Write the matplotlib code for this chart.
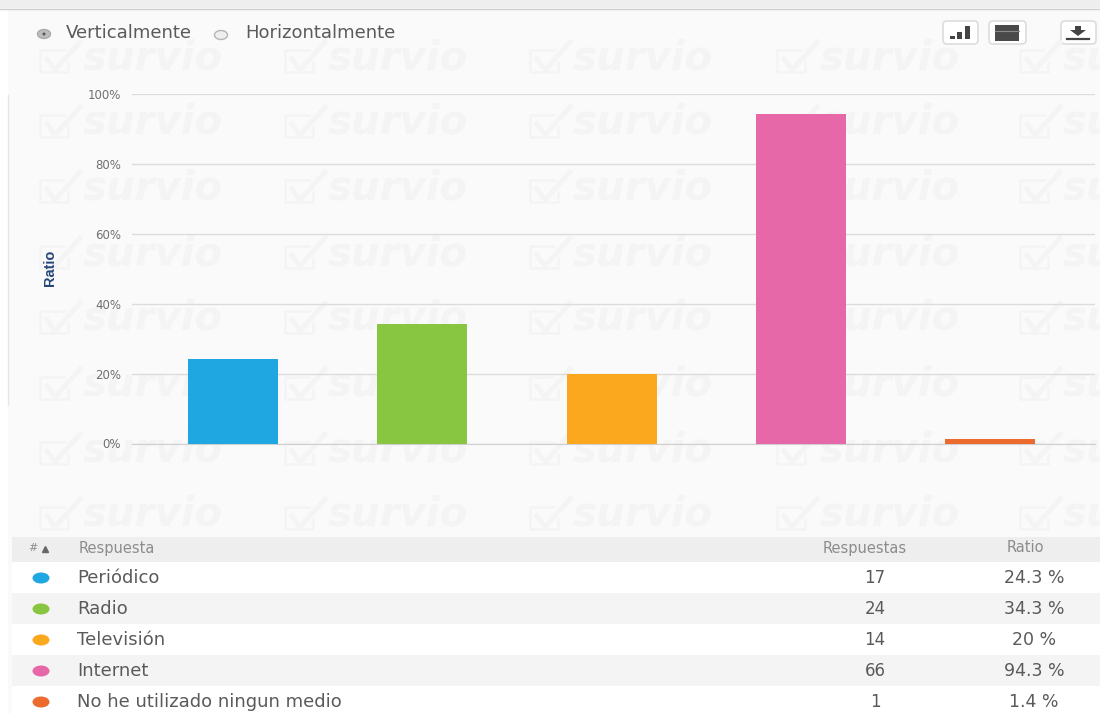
import matplotlib
matplotlib.use('Agg')
import matplotlib.pyplot as plt
from matplotlib.patches import Rectangle, Circle, Ellipse, FancyBboxPatch

# values
answers = ['Periódico', 'Radio', 'Televisión', 'Internet', 'No he utilizado ningun medio']
counts = [17, 24, 14, 66, 1]
ratios = [24.3, 34.3, 20, 94.3, 1.4]
ratio_labels = ['24.3 %', '34.3 %', '20 %', '94.3 %', '1.4 %']
colors = ['#1ea7e1', '#88c540', '#fba81f', '#e668a8', '#ec6a2e']
y_ticks = [0, 20, 40, 60, 80, 100]

W, H = 1100, 713
plt.rcParams['font.family'] = ['DejaVu Sans']
TXT = '#5a5a5a'
MARK = '#f4f4f4'

fig = plt.figure(figsize=(W / 100, H / 100), dpi=100, facecolor='#fafafa')

# page layer in pixel coordinates
bg = fig.add_axes([0, 0, 1, 1], zorder=0)
bg.set_xlim(0, W)
bg.set_ylim(H, 0)
bg.axis('off')

bg.add_patch(Rectangle((0, 0), W, 8, color='#eeeeee', lw=0))
bg.plot([0, W], [8.5, 8.5], color='#cfcfcf', lw=1)
bg.add_patch(Rectangle((0, 9), 8, H, color='white', lw=0))
bg.plot([8, 8], [95, 405], color='#e6e6e6', lw=1)

# watermark
for wy in [58, 123, 188, 254, 319, 385, 450, 515]:
    for wx in [40, 285, 530, 777, 1020]:
        bg.plot([wx + 24, wx, wx, wx + 28, wx + 28], [wy - 8, wy - 8, wy + 14, wy + 14, wy + 4],
                color=MARK, lw=1.8)
        bg.plot([wx + 7, wx + 15, wx + 40], [wy + 1, wy + 12, wy - 16], color=MARK, lw=3.5)
        bg.text(wx + 43, wy, 'survio', fontsize=29, style='italic', fontweight='bold',
                color=MARK, ha='left', va='center', clip_on=True)

# radio buttons
bg.add_patch(Ellipse((44, 34), 13, 9, fc='#bdbdbd', ec='#aaaaaa', lw=1))
bg.add_patch(Circle((44, 34), 1.5, fc='#555555', lw=0))
bg.text(66, 33.5, 'Verticalmente', fontsize=13, color=TXT, va='center')
bg.add_patch(Ellipse((221, 35), 13, 9, fc='#eeeeee', ec='#b5b5b5', lw=1))
bg.text(245, 33.5, 'Horizontalmente', fontsize=13, color=TXT, va='center')

# toolbar buttons
for bx, bw in [(943, 35), (989, 37), (1061, 35)]:
    bg.add_patch(FancyBboxPatch((bx, 21), bw, 23, boxstyle='round,pad=0,rounding_size=4',
                                fc='white', ec='#dddddd', lw=1.2))
for ix, ih in [(950, 3), (957, 7), (965, 13)]:
    bg.add_patch(Rectangle((ix, 39 - ih), 5, ih, color='#444444', lw=0))
bg.add_patch(Rectangle((995, 25), 24, 16, color='#4a4a4a', lw=0))
bg.plot([995, 1019], [30.5, 30.5], color='#8a8a8a', lw=0.8)
bg.fill([1075, 1081, 1081, 1086, 1078, 1070, 1075], [26, 26, 30, 30, 36, 30, 30], color='#444444', lw=0)
bg.plot([1067, 1089], [39, 39], color='#444444', lw=1.6)

# table
bg.add_patch(Rectangle((12, 537), W - 12, 25, color='#eeeeee', lw=0))
row_tops = [562, 593, 624, 655, 686]
row_fill = ['white', '#f4f4f4', 'white', '#f4f4f4', 'white']
for top, fill in zip(row_tops, row_fill):
    bg.add_patch(Rectangle((12, top), W - 12, 31, color=fill, lw=0))

bg.text(28, 548, '#', fontsize=8, color='#8c8c8c', va='center')
bg.plot([45], [549], marker='^', ms=4, color='#666666')
bg.text(79, 548, 'Respuesta', fontsize=10.5, color='#8c8c8c', va='center')
bg.text(865, 548, 'Respuestas', fontsize=10.5, color='#8c8c8c', ha='center', va='center')
bg.text(1025, 548, 'Ratio', fontsize=10.5, color='#8c8c8c', ha='center', va='center')

for i, top in enumerate(row_tops):
    cy = top + 16
    bg.add_patch(Ellipse((41, cy), 17, 11, color=colors[i], lw=0))
    bg.text(77, cy, answers[i], fontsize=13, color=TXT, va='center')
    bg.text(875, cy, str(counts[i]), fontsize=12, color=TXT, ha='center', va='center')
    bg.text(1034, cy, ratio_labels[i], fontsize=12.5, color=TXT, ha='center', va='center')

# bar chart, plot box from x 132-1095 and y 94-443 px
ax = fig.add_axes([132 / W, 1 - 443.5 / H, (1095 - 132) / W, (443.5 - 94) / H], zorder=1)
ax.patch.set_alpha(0)
ax.bar(range(len(ratios)), ratios, width=0.475, color=colors, zorder=3)
ax.set_xlim(-0.534, 4.553)
ax.set_ylim(0, 100)
ax.set_yticks(y_ticks)
ax.set_yticklabels([f'{t}%' for t in y_ticks], fontsize=8.5, color='#707070')
ax.set_xticks([])
ax.grid(axis='y', color='#dcdcdc', lw=1, zorder=1)
ax.tick_params(axis='y', length=0, pad=8)
for side in ['top', 'right', 'left']:
    ax.spines[side].set_visible(False)
ax.spines['bottom'].set_color('#cfcfcf')
ax.set_axisbelow(True)

bg.text(50, 268, 'Ratio', fontsize=10.5, fontweight='bold',
        family=['Liberation Sans Narrow', 'Liberation Sans'],
        color='#27477a', rotation=90, ha='center', va='center')

fig.savefig('out.png', dpi=100)
